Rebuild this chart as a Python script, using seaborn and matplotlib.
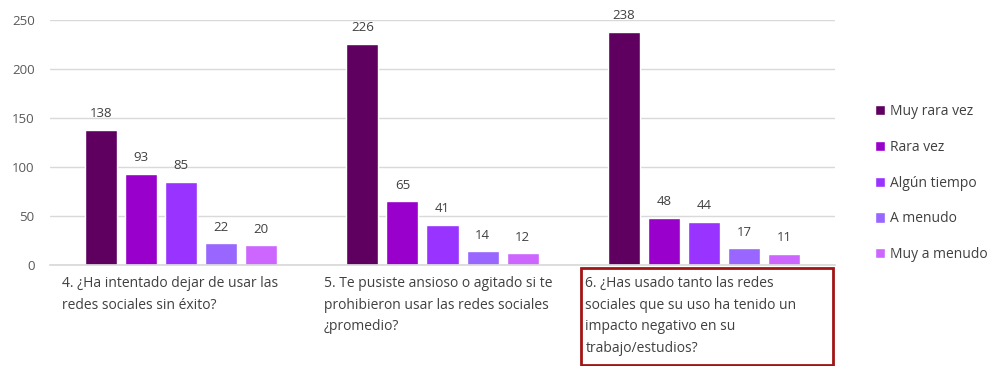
import matplotlib
matplotlib.use("Agg")
import matplotlib.pyplot as plt
import matplotlib.patches as mpatches
import seaborn as sns
import pandas as pd

categories = [
    "4. ¿Ha intentado dejar de usar las\nredes sociales sin éxito?",
    "5. Te pusiste ansioso o agitado si te\nprohibieron usar las redes sociales\n¿promedio?",
    "6. ¿Has usado tanto las redes\nsociales que su uso ha tenido un\nimpacto negativo en su\ntrabajo/estudios?",
]
series = ["Muy rara vez", "Rara vez", "Algún tiempo", "A menudo", "Muy a menudo"]
muy_rara_vez = [138, 226, 238]
rara_vez = [93, 65, 48]
algun_tiempo = [85, 41, 44]
a_menudo = [22, 14, 17]
muy_a_menudo = [20, 12, 11]
colors = ["#5f0060", "#9900cc", "#9933ff", "#9966ff", "#cc66ff"]
yticks = [0, 50, 100, 150, 200, 250]

values = [muy_rara_vez, rara_vez, algun_tiempo, a_menudo, muy_a_menudo]
rows = []
for s, vals in zip(series, values):
    for c, v in zip(categories, vals):
        rows.append({"Pregunta": c, "Frecuencia": s, "Valor": v})
df = pd.DataFrame(rows)

sns.set_theme(style="white")
plt.rcParams["font.family"] = ["Open Sans", "DejaVu Sans"]

W, H = 997, 366
fig = plt.figure(figsize=(W / 100, H / 100), dpi=100)
ax = fig.add_axes([50 / W, (H - 265) / H, (835 - 50) / W, (265 - 20) / H])

sns.barplot(data=df, x="Pregunta", y="Valor", hue="Frecuencia", order=categories,
            hue_order=series, palette=colors, width=0.765, gap=0.2,
            saturation=1, ax=ax, legend=True)

text_color = "#404040"
for cont in ax.containers:
    ax.bar_label(cont, padding=7, fontsize=9.5, color=text_color)

ax.set_ylim(0, 250)
ax.set_xlim(-0.5, 2.5)
ax.set_yticks(yticks)
ax.yaxis.grid(True, color="#d9d9d9", lw=1)
ax.set_axisbelow(True)
for sp in ["top", "right", "left"]:
    ax.spines[sp].set_visible(False)
ax.spines["bottom"].set_color("#d9d9d9")
ax.tick_params(axis="y", length=0, pad=11, labelsize=9.5, labelcolor="#595959")
ax.set_xticks([-0.5, 0.5, 1.5, 2.5])
ax.set_xticklabels([])
ax.tick_params(axis="x", length=5, color="#d9d9d9", width=1)
ax.set_xlabel("")
ax.set_ylabel("")

for i, c in enumerate(categories):
    ax.text(i - 0.5 + 12 / 262, -11, c, ha="left", va="top",
            fontsize=10, color=text_color, linespacing=1.62,
            transform=ax.transData, clip_on=False)

# highlight box around third label
rect = mpatches.Rectangle((581 / W, 1 / H), (833 - 581) / W, (365 - 268) / H,
                          transform=fig.transFigure, fill=False, edgecolor="#a01515", lw=2)
fig.patches.append(rect)

handles, labels = ax.get_legend_handles_labels()
ax.get_legend().remove()
fig.legend(handles, labels, loc="center left", bbox_to_anchor=(862 / W, 0.5),
           frameon=False, fontsize=10, labelcolor=text_color, handlelength=0.75,
           handleheight=0.75, handletextpad=0.35, labelspacing=1.5)

fig.savefig("out.png", dpi=100)
